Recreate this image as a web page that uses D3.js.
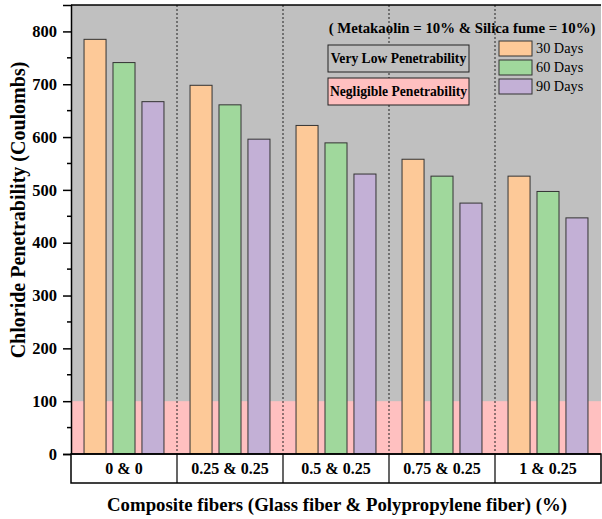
<!DOCTYPE html>
<html>
<head>
<meta charset="utf-8">
<script src="https://cdn.jsdelivr.net/npm/d3@7"></script>
<style>
  body { margin: 0; background: #fff; }
  svg { font-family: "Liberation Serif", "Times New Roman", serif; }
</style>
</head>
<body>
<svg id="chart" width="602" height="519"></svg>
<script>
// data
const categories = ['0 & 0', '0.25 & 0.25', '0.5 & 0.25', '0.75 & 0.25', '1 & 0.25']
const seriesNames = ['30 Days', '60 Days', '90 Days']
const days30 = [785, 698, 622, 558, 526]
const days60 = [741, 661, 589, 526, 497]
const days90 = [667, 596, 530, 475, 447]
const yTicks = [0, 100, 200, 300, 400, 500, 600, 700, 800]
const colors = ['#fdc998', '#a0d89c', '#c3b0d6']

const series = [days30, days60, days90]

const svg = d3.select('#chart')
const pLeft = 71, pRight = 601, pTop = 5, pBottom = 454
const bandH = 29

const x = d3.scaleBand().domain(categories).range([pLeft, pRight])
const xs = d3.scaleBand().domain(seriesNames).range([0, x.bandwidth()]).paddingInner(0.24).paddingOuter(0.45)
const y = d3.scaleLinear().domain([0, 850]).range([pBottom, pTop])

// background zones
svg.append('rect')
    .attr('x', pLeft).attr('y', pTop)
    .attr('width', pRight - pLeft).attr('height', pBottom - pTop)
    .attr('fill', '#c0c0c0')
svg.append('rect')
    .attr('x', pLeft).attr('y', y(100))
    .attr('width', pRight - pLeft).attr('height', pBottom - y(100))
    .attr('fill', '#ffc0c0')

// group separators
svg.selectAll('.sep')
    .data(categories.slice(1))
    .enter()
    .append('line')
    .attr('x1', (d) => x(d)).attr('x2', (d) => x(d))
    .attr('y1', pTop).attr('y2', pBottom)
    .attr('stroke', '#222')
    .attr('stroke-width', 1)
    .attr('stroke-dasharray', '2,2')

// bars
const rows = []
categories.forEach((c, i) => {
    seriesNames.forEach((s, j) => rows.push({ cat: c, name: s, value: series[j][i], j: j }))
})
svg.selectAll('.bar')
    .data(rows)
    .enter()
    .append('rect')
    .attr('x', (d) => x(d.cat) + xs(d.name))
    .attr('y', (d) => y(d.value))
    .attr('width', xs.bandwidth())
    .attr('height', (d) => pBottom - y(d.value))
    .attr('fill', (d) => colors[d.j])
    .attr('stroke', '#333')
    .attr('stroke-width', 1)

// top border
svg.append('line')
    .attr('x1', pLeft).attr('x2', pRight)
    .attr('y1', pTop).attr('y2', pTop)
    .attr('stroke', '#000').attr('stroke-width', 1.5)

// y axis
const yAxis = svg.append('g')
    .attr('transform', 'translate(' + pLeft + ',0)')
    .call(d3.axisLeft(y).tickValues(yTicks).tickSize(8).tickPadding(6))
yAxis.select('.domain').attr('stroke-width', 1.5)
yAxis.selectAll('.tick line').attr('stroke-width', 1.5)
yAxis.selectAll('text')
    .attr('font-family', '"Liberation Serif", serif')
    .attr('font-size', 16.5)
    .attr('font-weight', 'bold')
    .attr('fill', '#000')

// minor ticks
svg.selectAll('.minor')
    .data(yTicks.slice(0, -1).map((d) => d + 50))
    .enter()
    .append('line')
    .attr('x1', pLeft - 4).attr('x2', pLeft)
    .attr('y1', (d) => y(d)).attr('y2', (d) => y(d))
    .attr('stroke', '#000').attr('stroke-width', 1.5)

// category band
svg.append('rect')
    .attr('x', pLeft).attr('y', pBottom)
    .attr('width', pRight - pLeft).attr('height', bandH)
    .attr('fill', '#fff').attr('stroke', '#000').attr('stroke-width', 1.5)
svg.selectAll('.bandsep')
    .data(categories.slice(1))
    .enter()
    .append('line')
    .attr('x1', (d) => x(d)).attr('x2', (d) => x(d))
    .attr('y1', pBottom).attr('y2', pBottom + bandH)
    .attr('stroke', '#000').attr('stroke-width', 1.2)
svg.selectAll('.catlabel')
    .data(categories)
    .enter()
    .append('text')
    .attr('x', (d) => x(d) + x.bandwidth() / 2)
    .attr('y', pBottom + 20)
    .attr('text-anchor', 'middle')
    .attr('font-size', 16)
    .attr('font-weight', 'bold')
    .text((d) => d)

// x axis line at zero
svg.append('line')
    .attr('x1', pLeft).attr('x2', pRight)
    .attr('y1', pBottom).attr('y2', pBottom)
    .attr('stroke', '#000').attr('stroke-width', 1.5)

// axis titles
svg.append('text')
    .attr('x', 337).attr('y', 511)
    .attr('text-anchor', 'middle')
    .attr('font-size', 18.8)
    .attr('font-weight', 'bold')
    .text('Composite fibers (Glass fiber & Polypropylene fiber) (%)')
svg.append('text')
    .attr('transform', 'translate(25,' + 210 + ') rotate(-90)')
    .attr('text-anchor', 'middle')
    .attr('font-size', 20)
    .attr('font-weight', 'bold')
    .text('Chloride Penetrability (Coulombs)')

// annotation boxes
const notes = [
    { label: 'Very Low Penetrability', fill: '#c0c0c0', y: 45 },
    { label: 'Negligible Penetrability', fill: '#ffc0c0', y: 78 },
]
notes.forEach((n) => {
    svg.append('rect')
        .attr('x', 328).attr('y', n.y)
        .attr('width', 141).attr('height', 27)
        .attr('fill', n.fill).attr('stroke', '#222').attr('stroke-width', 1)
    svg.append('text')
        .attr('x', 398.5).attr('y', n.y + 18)
        .attr('text-anchor', 'middle')
        .attr('font-size', 13.6)
        .attr('font-weight', 'bold')
        .text(n.label)
})

// legend
svg.append('text')
    .attr('x', 462).attr('y', 33)
    .attr('text-anchor', 'middle')
    .attr('font-size', 14.8)
    .attr('font-weight', 'bold')
    .text('( Metakaolin = 10% & Silica fume = 10%)')
const legend = svg.selectAll('.legend')
    .data(seriesNames)
    .enter()
    .append('g')
    .attr('transform', (d, i) => 'translate(499,' + (41 + i * 19) + ')')
legend.append('rect')
    .attr('width', 33).attr('height', 15)
    .attr('fill', (d, i) => colors[i])
    .attr('stroke', '#333').attr('stroke-width', 1)
legend.append('text')
    .attr('x', 37).attr('y', 12)
    .attr('font-size', 14.3)
    .text((d) => d)
</script>
</body>
</html>
